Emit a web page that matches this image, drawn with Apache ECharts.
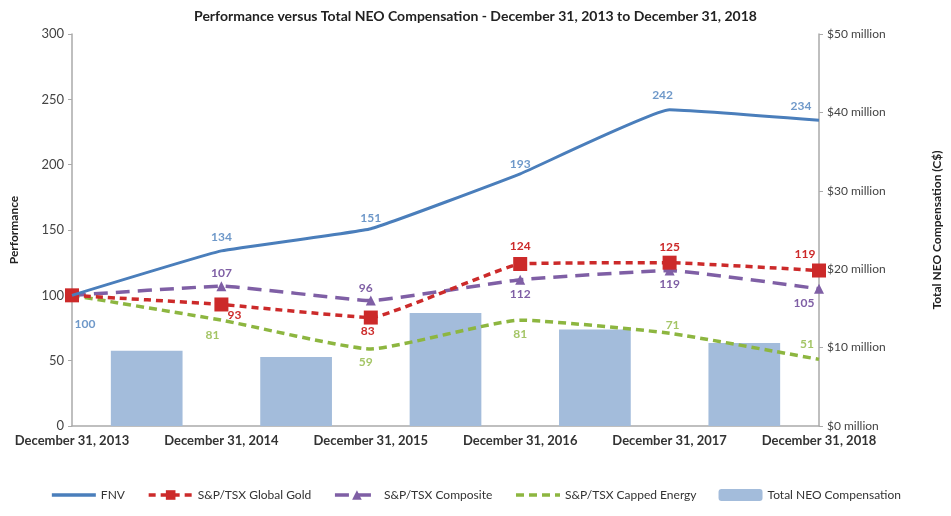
<!DOCTYPE html>
<html>
<head>
<meta charset="utf-8">
<script src="https://cdn.jsdelivr.net/npm/echarts@6/dist/echarts.min.js"></script>
<style>
html,body{margin:0;padding:0;background:#fff;}
#chart{width:951px;height:516px;}
</style>
</head>
<body>
<div id="chart"></div>
<script>
const categories = ['December 31, 2013','December 31, 2014','December 31, 2015','December 31, 2016','December 31, 2017','December 31, 2018'];
const fnv = [100,134,151,193,242,234];
const gold = [100,93,83,124,125,119];
const composite = [100,107,96,112,119,105];
const energy = [100,81,59,81,71,51];
const barPeriods = ['2014','2015','2016','2017','2018'];
const neoComp = [9.6,8.8,14.4,12.3,10.6];
const leftTicks = {min:0, max:300, interval:50};
const rightTicks = {min:0, max:50, interval:10};

// label placement offsets (style only)
const offFnv = [[13,29],[0,-14],[0,-11],[0,-10],[-7,-15],[-18,-14]];
const offGold = [null,[13,11],[-3,14],[0,-18],[0,-16],[-14,-16]];
const offComp = [null,[0,-13],[-5,-12],[0,14],[0,14],[-15,14]];
const offEnergy = [null,[-9,15],[-5,13],[0,14],[3,-8],[-12,-15]];

const FONT = 'Lato, "Open Sans", sans-serif';
const C = {fnv:'#4a7ebb', gold:'#cc2a2a', comp:'#7f5fa5', energy:'#8db640', bar:'#a3bcdb'};

function labeled(values, offsets, color){
  return values.map((v,i)=>({
    value:v,
    label:{show: !!offsets[i], position:'inside', offset: offsets[i] || [0,0],
      color: color, fontWeight:'bold', fontSize:12, fontFamily:FONT}
  }));
}

const chart = echarts.init(document.getElementById('chart'), null, {renderer:'canvas'});
chart.setOption({
  animation:false,
  backgroundColor:'#fff',
  title:{text:'Performance versus Total NEO Compensation - December 31, 2013 to December 31, 2018', left:'center', top:4,
    textStyle:{fontSize:14, fontWeight:'bold', color:'#222', fontFamily:FONT}},
  grid:{left:67, right:129, top:34, bottom:90},
  legend:{bottom:10, left:'center', itemGap:22, itemWidth:44, itemHeight:12,
    textStyle:{fontSize:12, color:'#333', fontFamily:FONT},
    lineStyle:{width:3.5},
    data:[
      {name:'FNV', itemStyle:{opacity:0}},
      'S&P/TSX Global Gold',
      'S&P/TSX Composite',
      {name:'S&P/TSX Capped Energy', itemStyle:{opacity:0}},
      'Total NEO Compensation']},
  xAxis:[
    {type:'category', data:categories, boundaryGap:false,
      axisLine:{lineStyle:{color:'#aaa', width:1.5}}, axisTick:{show:false},
      axisLabel:{color:'#333', fontSize:13, fontWeight:'bold', fontFamily:FONT, margin:8}},
    {type:'category', data:barPeriods, boundaryGap:true, show:false, position:'bottom'}
  ],
  yAxis:[
    {type:'value', min:leftTicks.min, max:leftTicks.max, interval:leftTicks.interval,
      name:'Performance', nameLocation:'middle', nameRotate:90, nameGap:52,
      nameTextStyle:{fontSize:12, fontWeight:'bold', color:'#222', fontFamily:FONT},
      splitLine:{show:false},
      axisLine:{show:true, lineStyle:{color:'#aaa', width:1.5}},
      axisTick:{show:true, length:4, lineStyle:{color:'#aaa'}},
      axisLabel:{color:'#444', fontSize:13, fontFamily:FONT, margin:8}},
    {type:'value', position:'right', min:rightTicks.min, max:rightTicks.max, interval:rightTicks.interval,
      name:'Total NEO Compensation (C$)', nameLocation:'middle', nameRotate:90, nameGap:112,
      nameTextStyle:{fontSize:12, fontWeight:'bold', color:'#222', fontFamily:FONT},
      splitLine:{show:false},
      axisLine:{show:true, lineStyle:{color:'#aaa', width:1.5}},
      axisTick:{show:true, length:4, lineStyle:{color:'#aaa'}},
      axisLabel:{color:'#444', fontSize:12, fontFamily:FONT, margin:8, formatter:v=>'$'+v+' million'}}
  ],
  series:[
    {name:'Total NEO Compensation', type:'bar', xAxisIndex:1, yAxisIndex:1, data:neoComp, barWidth:'48%',
      itemStyle:{color:C.bar}, z:1},
    {name:'FNV', type:'line', data:fnv,
      smooth:0.1, symbol:'none', lineStyle:{color:C.fnv, width:3}, itemStyle:{color:C.fnv}, z:5},
    {name:'S&P/TSX Global Gold', type:'line', data:labeled(gold,offGold,C.gold),
      smooth:0.1, symbol:'rect', symbolSize:14, lineStyle:{color:C.gold, width:3.5, type:[7,5]}, itemStyle:{color:C.gold}, z:4},
    {name:'S&P/TSX Composite', type:'line', data:labeled(composite,offComp,C.comp),
      smooth:0.1, symbol:'triangle', symbolSize:10, lineStyle:{color:C.comp, width:3.5, type:[14,8]}, itemStyle:{color:C.comp}, z:3},
    {name:'S&P/TSX Capped Energy', type:'line', data:energy,
      smooth:0.15, symbol:'none', lineStyle:{color:C.energy, width:3.5, type:[8,5]}, itemStyle:{color:C.energy}, z:2},
    {name:'FNV values', type:'scatter', data:labeled(fnv,offFnv,C.fnv), symbolSize:0, itemStyle:{color:C.fnv}, z:6, silent:true},
    {name:'Energy values', type:'scatter', data:labeled(energy,offEnergy,C.energy), symbolSize:0, itemStyle:{color:C.energy}, z:6, silent:true}
  ]
});
</script>
</body>
</html>
